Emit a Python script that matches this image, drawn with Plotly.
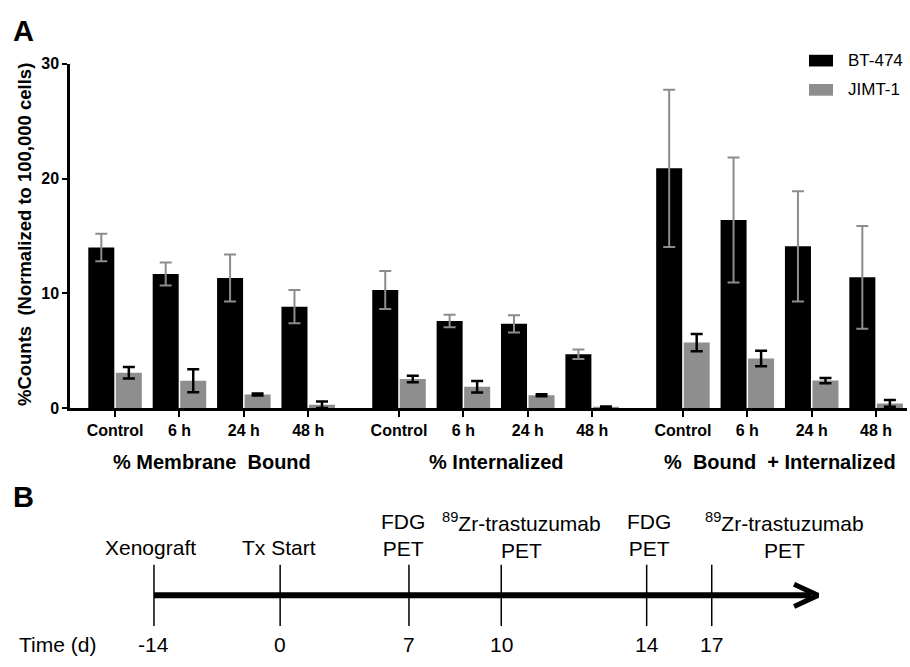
import plotly.graph_objects as go

# ---------------- Panel A data ----------------
categories = ["Control", "6 h", "24 h", "48 h"]
groups = ["%\u00a0Membrane\u00a0\u00a0Bound", "%\u00a0Internalized", "%\u00a0\u00a0Bound\u00a0\u00a0+\u00a0Internalized"]
bt474 = [14.0, 11.7, 11.35, 8.85, 10.3, 7.6, 7.35, 4.7, 20.9, 16.4, 14.1, 11.4]
bt474_err = [1.2, 1.0, 2.05, 1.45, 1.65, 0.55, 0.75, 0.42, 6.85, 5.45, 4.8, 4.47]
jimt1 = [3.1, 2.4, 1.2, 0.3, 2.55, 1.87, 1.13, 0.12, 5.72, 4.33, 2.41, 0.42]
jimt1_err = [0.5, 1.0, 0.08, 0.28, 0.28, 0.5, 0.08, 0.04, 0.75, 0.67, 0.23, 0.3]
y_ticks = [0, 10, 20, 30]

# ---------------- Panel B data ----------------
event_days = [-14, 0, 7, 10, 14, 17]
event_labels = ["Xenograft", "Tx Start", "FDG<br>PET",
                "<sup>89</sup>Zr-trastuzumab<br>PET", "FDG<br>PET",
                "<sup>89</sup>Zr-trastuzumab<br>PET"]
event_track = [0, 19.0, 38.4, 52.3, 74.2, 84.0]      # schematic position along arrow (0-100)
label_track = [-0.6, 18.8, 37.5, 55.4, 74.5, 95.0]   # schematic label centres

FONT = "Liberation Sans, Arial, Helvetica, sans-serif"
W, H = 910, 667

group_stride = 4.41
xpos = [g * group_stride + i for g in range(len(groups)) for i in range(len(categories))]
ticktext = categories * len(groups)

fig = go.Figure()
fig.add_trace(go.Bar(
    x=xpos, y=bt474, name="BT-474", marker=dict(color="#000000", line=dict(width=0)),
    error_y=dict(type="data", array=bt474_err, color="#8c8c8c", thickness=2, width=6),
    xaxis="x", yaxis="y", showlegend=False, hoverinfo="skip"))
fig.add_trace(go.Bar(
    x=xpos, y=jimt1, name="JIMT-1", marker=dict(color="#8e8e8e", line=dict(width=0)),
    error_y=dict(type="data", array=jimt1_err, color="#000000", thickness=2.5, width=6),
    xaxis="x", yaxis="y", showlegend=False, hoverinfo="skip"))

# ---------------- Panel B marks ----------------
arrow_end = 99.0
fig.add_trace(go.Scatter(x=[0, arrow_end], y=[0, 0], mode="lines",
                         line=dict(color="black", width=6), xaxis="x2", yaxis="y2",
                         showlegend=False, hoverinfo="skip"))
fig.add_trace(go.Scatter(x=[96.4, 100, 96.4], y=[0.36, 0, -0.36], mode="lines",
                         line=dict(color="black", width=5), xaxis="x2", yaxis="y2",
                         showlegend=False, hoverinfo="skip"))
vx, vy = [], []
for p in event_track:
    vx += [p, p, None]
    vy += [-1, 1, None]
fig.add_trace(go.Scatter(x=vx, y=vy, mode="lines", line=dict(color="black", width=1.5),
                         xaxis="x2", yaxis="y2", showlegend=False, hoverinfo="skip"))

annotations = []
# group labels
for g, name in enumerate(groups):
    annotations.append(dict(x=g * group_stride + 1.5, y=1 - 466 / H, xref="x", yref="paper",
                            text=name, showarrow=False, xanchor="center", yanchor="middle",
                            font=dict(family=FONT, size=20, color="black", weight="bold")))
# y-axis title
annotations.append(dict(x=24 / W, y=1 - 233 / H, xref="paper", yref="paper",
                        text="%Counts\u00a0\u00a0(Normalized to 100,000 cells)", textangle=-90,
                        showarrow=False, xanchor="center", yanchor="middle",
                        font=dict(family=FONT, size=18.5, color="black", weight="bold")))
# panel labels
for lab, yy in (("A", 24), ("B", 502)):
    annotations.append(dict(x=23 / W, y=1 - yy / H, xref="paper", yref="paper", text=lab,
                            showarrow=False, xanchor="center", yanchor="middle",
                            font=dict(family=FONT, size=29, color="black", weight="bold")))
# legend
legend_items = [("BT-474", "#000000", 54), ("JIMT-1", "#8e8e8e", 84)]
shapes = []
for name, col, yc in legend_items:
    shapes.append(dict(type="rect", xref="paper", yref="paper", x0=809 / W, x1=833 / W,
                       y0=1 - (yc + 6) / H, y1=1 - (yc - 6) / H, fillcolor=col,
                       line=dict(width=0)))
    annotations.append(dict(x=846 / W, y=1 - yc / H, xref="paper", yref="paper", text=name,
                            showarrow=False, xanchor="left", yanchor="middle",
                            font=dict(family=FONT, size=17, color="black")))
# timeline labels
for lab, lx in zip(event_labels, label_track):
    two = "<br>" in lab
    annotations.append(dict(x=lx, y=1.96 if two else 1.55, xref="x2", yref="y2", text=lab,
                            showarrow=False, xanchor="center", yanchor="middle", align="center",
                            font=dict(family=FONT, size=21, color="black")))
for d, p in zip(event_days, event_track):
    annotations.append(dict(x=p, y=-1.6, xref="x2", yref="y2", text=str(d),
                            showarrow=False, xanchor="center", yanchor="middle",
                            font=dict(family=FONT, size=21, color="black")))
annotations.append(dict(x=-14.5, y=-1.6, xref="x2", yref="y2", text="Time (d)",
                        showarrow=False, xanchor="center", yanchor="middle",
                        font=dict(family=FONT, size=21, color="black")))

fig.update_layout(
    width=W, height=H, margin=dict(l=0, r=0, t=0, b=0),
    paper_bgcolor="white", plot_bgcolor="white",
    barmode="group", bargap=0.145, bargroupgap=0.055,
    font=dict(family=FONT, color="black"),
    xaxis=dict(domain=[70 / W, 907 / W], range=[-0.70, 12.30], tickvals=xpos, ticktext=ticktext,
               ticks="outside", ticklen=6, tickwidth=2, tickcolor="black",
               showline=True, linewidth=2.5, linecolor="black", showgrid=False, zeroline=False,
               tickfont=dict(family=FONT, size=16, color="black", weight="bold"), anchor="y"),
    yaxis=dict(domain=[1 - 410.7 / H, 1 - 57.3 / H], range=[0, 30], tickvals=y_ticks,
               ticks="outside", ticklen=5, tickwidth=2, tickcolor="black",
               showline=True, linewidth=2.5, linecolor="black", showgrid=False, zeroline=False,
               tickfont=dict(family=FONT, size=16, color="black", weight="bold"), anchor="x"),
    xaxis2=dict(domain=[0, 1], range=[-23.19, 113.86], visible=False, anchor="y2"),
    yaxis2=dict(domain=[0, (H - 480) / H], range=[-2.04, 3.895], visible=False, anchor="x2"),
    annotations=annotations, shapes=shapes,
)

fig.write_html("out.html", config={"displayModeBar": False},
               post_script="document.body.style.margin='0';document.body.style.overflow='hidden';")
